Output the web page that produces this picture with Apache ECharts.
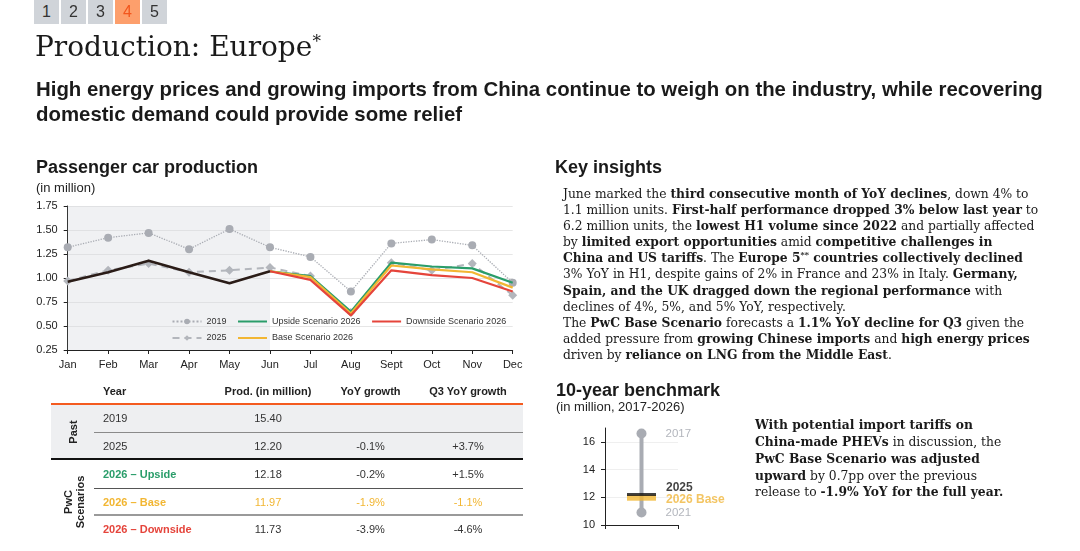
<!DOCTYPE html>
<html>
<head>
<meta charset="utf-8">
<script src="https://cdn.jsdelivr.net/npm/echarts@6/dist/echarts.min.js"></script>
<style>
html,body{margin:0;padding:0;background:#fff;}
#wrap{position:relative;width:1080px;height:551px;overflow:hidden;font-family:"Liberation Sans",Arial,sans-serif;color:#1a1a1a;}
#chart{position:absolute;left:0;top:0;width:1080px;height:551px;}
.t{position:absolute;white-space:nowrap;pointer-events:none;}
.serif{font-family:"DejaVu Serif","Liberation Serif",serif;}
.nav{position:absolute;top:0;width:25px;height:24px;background:#d0d4d9;color:#333;font-size:16px;line-height:24px;text-align:center;}
.nav.on{background:#fd9f6c;color:#f2561d;}
.h2{font-size:18px;font-weight:bold;line-height:18px;}
.sub{font-size:13px;line-height:13px;color:#222;}
.body{font-size:12.3px;color:#1a1a1a;}
.body b{font-weight:bold;}
.tb{position:absolute;font-size:11px;line-height:14px;white-space:nowrap;color:#333;}
.hl{position:absolute;}
</style>
</head>
<body>
<div id="wrap">
  <div id="chart"></div>

  <div class="nav" style="left:34px">1</div>
  <div class="nav" style="left:61px">2</div>
  <div class="nav" style="left:88px">3</div>
  <div class="nav on" style="left:115px">4</div>
  <div class="nav" style="left:142px">5</div>

  <div class="t serif" style="left:35px;top:27px;font-size:28px;line-height:28px;">Production: Europe<span style="font-size:17px;vertical-align:9px;">*</span></div>

  <div class="t" style="left:36px;top:77px;font-size:20.4px;font-weight:bold;line-height:25px;">High energy prices and growing imports from China continue to weigh on the industry, while recovering<br>domestic demand could provide some relief</div>

  <div class="t h2" style="left:36px;top:158px;">Passenger car production</div>
  <div class="t sub" style="left:36px;top:181px;">(in million)</div>

  <div class="t h2" style="left:555px;top:158px;">Key insights</div>
  <div class="t serif body" style="left:563px;top:186px;line-height:16.1px;">June marked the <b>third consecutive month of YoY declines</b>, down 4% to<br>1.1 million units. <b>First-half performance dropped 3% below last year</b> to<br>6.2 million units, the <b>lowest H1 volume since 2022</b> and partially affected<br>by <b>limited export opportunities</b> amid <b>competitive challenges in</b><br><b>China and US tariffs</b>. The <b>Europe 5<sup style="font-size:8px;line-height:0">**</sup> countries collectively declined</b><br>3% YoY in H1, despite gains of 2% in France and 23% in Italy. <b>Germany,</b><br><b>Spain, and the UK dragged down the regional performance</b> with<br>declines of 4%, 5%, and 5% YoY, respectively.<br>The <b>PwC Base Scenario</b> forecasts a <b>1.1% YoY decline for Q3</b> given the<br>added pressure from <b>growing Chinese imports</b> and <b>high energy prices</b><br>driven by <b>reliance on LNG from the Middle East</b>.</div>

  <div class="t h2" style="left:556px;top:381px;">10-year benchmark</div>
  <div class="t sub" style="left:556px;top:400px;">(in million, 2017-2026)</div>

  <div class="t serif body" style="left:755px;top:417px;line-height:15.85px;"><b>With potential import tariffs on</b><br><b>China-made PHEVs</b> in discussion, the<br><b>PwC Base Scenario was adjusted</b><br><b>upward</b> by 0.7pp over the previous<br>release to <b>-1.9% YoY for the full year.</b></div>

  <div id="table"></div>
</div>

<script>
// ---------- data ----------
const months = ['Jan','Feb','Mar','Apr','May','Jun','Jul','Aug','Sept','Oct','Nov','Dec'];
const prod2019 = [1.32,1.42,1.47,1.30,1.51,1.32,1.22,0.86,1.36,1.40,1.34,0.95];
const prod2025 = [0.97,1.08,1.15,1.06,1.08,1.11,1.02,0.64,1.16,1.08,1.15,0.82];
const actual2026 = [0.96,1.06,1.18,1.06,0.945,1.07,null,null,null,null,null,null];
const upside2026 = [null,null,null,null,null,1.07,1.02,0.65,1.16,1.12,1.10,0.95];
const base2026 = [null,null,null,null,null,1.07,1.01,0.63,1.13,1.09,1.06,0.90];
const downside2026 = [null,null,null,null,null,1.07,0.98,0.61,1.08,1.03,1.00,0.86];

const tableHeaders = ['Year','Prod. (in million)','YoY growth','Q3 YoY growth'];
const tableYears = ['2019','2025','2026 – Upside','2026 – Base','2026 – Downside'];
const tableProd = ['15.40','12.20','12.18','11.97','11.73'];
const tableYoY = ['','-0.1%','-0.2%','-1.9%','-3.9%'];
const tableQ3 = ['','+3.7%','+1.5%','-1.1%','-4.6%'];

const benchCategory = ['range'];
const benchRange = [16.6, 10.9];
const benchRangeLabels = ['2017','2021'];
const bench2025 = 12.20;
const bench2026Base = 11.97;

// ---------- colours ----------
const C = {
  grey19:'#a9acb3', grey25:'#b3b6bc', black:'#2a1c17',
  green:'#2a9d6a', yellow:'#f2b632', red:'#e5443b', orange:'#f45b20'
};
const FF = '"Liberation Sans", Arial, sans-serif';

// ---------- table ----------
(function(){
  const t = document.getElementById('table');
  function add(html, style){ const d=document.createElement('div'); d.className='tb'; d.innerHTML=html; d.setAttribute('style', style); t.appendChild(d); }
  function rule(x1,x2,y,h,c){ const d=document.createElement('div'); d.className='hl'; d.setAttribute('style',`left:${x1}px;top:${y-h/2}px;width:${x2-x1}px;height:${h}px;background:${c};`); t.appendChild(d); }
  const bg=document.createElement('div'); bg.className='hl'; bg.setAttribute('style','left:51px;top:405px;width:472px;height:53px;background:#eeeff1;'); t.appendChild(bg);
  rule(51,523,404.3,2,C.orange);
  rule(94,523,432.7,1.5,'#8a8a8a');
  rule(51,523,459.3,2,'#111');
  rule(94,523,488,1,'#555');
  rule(94,523,515,1.5,'#9a9a9a');
  const colX = [268,370.5,468];
  const hy = 391;
  add(tableHeaders[0], `left:103px;top:${hy-7}px;font-weight:bold;color:#222;`);
  for(let i=1;i<4;i++) add(tableHeaders[i], `left:${colX[i-1]-70}px;width:140px;text-align:center;top:${hy-7}px;font-weight:bold;color:#222;`);
  const rowY = [418,446,474,502,529];
  const rowColor = ['#333','#333',C.green,C.yellow,C.red];
  for(let r=0;r<5;r++){
    const y = rowY[r]-7;
    const scen = r>=2;
    add(tableYears[r], `left:103px;top:${y}px;color:${rowColor[r]};${scen?'font-weight:bold;':''}`);
    const vc = r===3 ? C.yellow : '#333';
    const vals=[tableProd[r],tableYoY[r],tableQ3[r]];
    for(let c=0;c<3;c++) add(vals[c], `left:${colX[c]-60}px;width:120px;text-align:center;top:${y}px;color:${vc};`);
  }
  add('Past', 'left:73px;top:432px;transform:translate(-50%,-50%) rotate(-90deg);font-weight:bold;color:#222;');
  add('PwC<br>Scenarios', 'left:74px;top:502px;transform:translate(-50%,-50%) rotate(-90deg);font-weight:bold;color:#222;text-align:center;line-height:12px;');
})();

// ---------- chart ----------
const chart = echarts.init(document.getElementById('chart'), null, {renderer:'canvas'});
const lineCommon = {type:'line', xAxisIndex:0, yAxisIndex:0, connectNulls:false, animation:false};
const noMark = {color:'rgba(0,0,0,0)', borderWidth:0};
const legendCommon = {left:171.5, itemWidth:29, itemHeight:7, itemGap:10.5, padding:0, selectedMode:false,
  textStyle:{fontSize:9, color:'#333', fontFamily:FF}};
const option = {
  animation:false,
  textStyle:{fontFamily:FF},
  grid:[
    {left:67.7, right:1080-512.7, top:206, bottom:551-350},
    {left:605, right:1080-678, top:428, bottom:26}
  ],
  legend:[
    Object.assign({}, legendCommon, {top:317, data:['2019',
      {name:'Upside Scenario 2026', itemStyle:noMark},
      {name:'Downside Scenario 2026', itemStyle:noMark}]}),
    Object.assign({}, legendCommon, {top:333.5, data:['2025',
      {name:'Base Scenario 2026', itemStyle:noMark}]})
  ],
  xAxis:[
    {gridIndex:0, type:'category', data:months, boundaryGap:false,
     axisLine:{lineStyle:{color:'#222', width:1}},
     axisTick:{show:true, length:4, lineStyle:{color:'#222'}},
     axisLabel:{fontSize:11, color:'#222', margin:9, fontFamily:FF},
     splitLine:{show:false}},
    {gridIndex:1, type:'category', data:benchCategory, boundaryGap:true,
     axisLine:{lineStyle:{color:'#222', width:1}},
     axisTick:{show:true, length:4, lineStyle:{color:'#222'}},
     axisLabel:{show:false}, splitLine:{show:false}}
  ],
  yAxis:[
    {gridIndex:0, type:'value', min:0.25, max:1.75, interval:0.25,
     axisLine:{show:true, lineStyle:{color:'#222', width:1}},
     axisTick:{show:true, length:4, lineStyle:{color:'#222'}},
     axisLabel:{fontSize:11, color:'#222', margin:10, fontFamily:FF, formatter:v=>v.toFixed(2)},
     splitLine:{show:true, lineStyle:{color:'#e6e6e6', width:1}}},
    {gridIndex:1, type:'value', min:10, max:17, interval:2,
     axisLine:{show:true, lineStyle:{color:'#222', width:1}},
     axisTick:{show:true, length:4, lineStyle:{color:'#222'}},
     axisLabel:{fontSize:11, color:'#222', margin:10, fontFamily:FF, showMaxLabel:false},
     splitLine:{show:true, showMinLine:false, showMaxLine:false, lineStyle:{color:'#efefef', width:1}}}
  ],
  series:[
    {type:'line', name:'shade', xAxisIndex:0, yAxisIndex:0, data:[], z:1, silent:true,
     markArea:{silent:true, itemStyle:{color:'rgba(215,218,224,0.38)'}, data:[[{xAxis:'Jan'},{xAxis:'Jun'}]]}},
    Object.assign({}, lineCommon, {name:'2019', data:prod2019, z:3,
      lineStyle:{type:'dotted', color:C.grey19, width:1.3},
      itemStyle:{color:C.grey19}, symbol:'circle', symbolSize:8, showSymbol:true}),
    Object.assign({}, lineCommon, {name:'2025', data:prod2025, z:3,
      lineStyle:{type:[7,5], color:C.grey25, width:2},
      itemStyle:{color:C.grey25}, symbol:'diamond', symbolSize:9, showSymbol:true}),
    Object.assign({}, lineCommon, {name:'2026 actual', data:actual2026, z:5,
      lineStyle:{color:C.black, width:2.5}, itemStyle:{color:C.black}, symbol:'none'}),
    Object.assign({}, lineCommon, {name:'Upside Scenario 2026', data:upside2026, z:4,
      lineStyle:{color:C.green, width:2.2}, itemStyle:{color:C.green}, symbol:'none'}),
    Object.assign({}, lineCommon, {name:'Base Scenario 2026', data:base2026, z:4,
      lineStyle:{color:C.yellow, width:2.2}, itemStyle:{color:C.yellow}, symbol:'none'}),
    Object.assign({}, lineCommon, {name:'Downside Scenario 2026', data:downside2026, z:4,
      lineStyle:{color:C.red, width:2.2}, itemStyle:{color:C.red}, symbol:'none'}),
    // benchmark
    {type:'line', name:'range', xAxisIndex:1, yAxisIndex:1, data:benchRange.map(v=>[0,v]), z:3,
     lineStyle:{color:C.grey19, width:4}, itemStyle:{color:C.grey19}, symbol:'circle', symbolSize:10,
     label:{show:true, position:'right', distance:19, color:'#b3b6bd', fontSize:11.5, fontFamily:FF,
            formatter:p=>benchRangeLabels[p.dataIndex]}},
    {type:'scatter', name:'bench base', xAxisIndex:1, yAxisIndex:1, data:[[0,bench2026Base]], z:4,
     symbol:'rect', symbolSize:[29,6], itemStyle:{color:C.yellow},
     label:{show:true, position:'right', distance:10, offset:[0,2], color:'#f0b73c', fontSize:12, fontWeight:'bold', fontFamily:FF, formatter:'2026 Base'}},
    {type:'scatter', name:'bench 2025', xAxisIndex:1, yAxisIndex:1, data:[[0,bench2025]], z:5,
     symbol:'rect', symbolSize:[29,3], itemStyle:{color:'#111'},
     label:{show:true, position:'right', distance:10, offset:[0,-7], color:'#111', fontSize:12, fontWeight:'bold', fontFamily:FF, formatter:'2025'}}
  ]
};
chart.setOption(option);
</script>
</body>
</html>
